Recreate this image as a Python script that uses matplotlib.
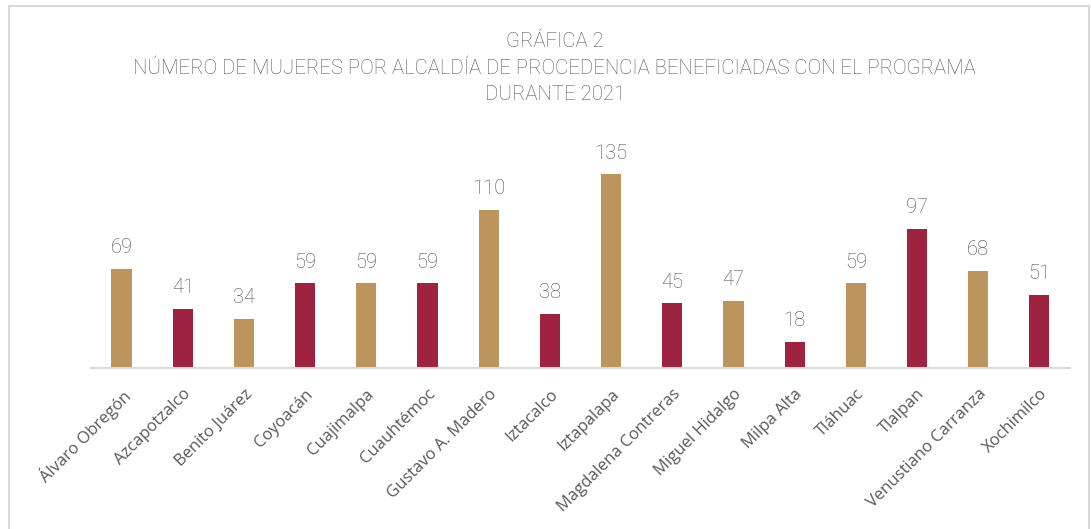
import matplotlib.pyplot as plt
from matplotlib.patches import Rectangle

alcaldias = ["Álvaro Obregón", "Azcapotzalco", "Benito Juárez", "Coyoacán",
             "Cuajimalpa", "Cuauhtémoc", "Gustavo A. Madero", "Iztacalco",
             "Iztapalapa", "Magdalena Contreras", "Miguel Hidalgo", "Milpa Alta",
             "Tláhuac", "Tlalpan", "Venustiano Carranza", "Xochimilco"]
mujeres = [69, 41, 34, 59, 59, 59, 110, 38, 135, 45, 47, 18, 59, 97, 68, 51]

gold = "#BC955C"
maroon = "#9F2241"
bar_colors = [gold, maroon, gold, maroon, gold, maroon, gold, maroon,
              gold, maroon, gold, maroon, gold, maroon, gold, maroon]

fig = plt.figure(figsize=(10.91, 5.29), dpi=100)
ax = fig.add_axes([0.0834, 0.3043, 0.8973, 0.431])

x = range(len(alcaldias))
bars = ax.bar(x, mujeres, width=0.33, color=bar_colors)

for b, v in zip(bars, mujeres):
    ax.annotate(str(v), (b.get_x() + b.get_width() / 2, v), xytext=(0, 8.5),
                textcoords="offset points", ha="center", va="bottom",
                fontsize=14.5, color="#505050", family="Roboto", fontweight="light")

ax.set_xlim(-0.5, len(alcaldias) - 0.5)
ax.set_ylim(0, 159)
ax.set_xticks(list(x))
ax.set_xticklabels(alcaldias, rotation=45, ha="right", rotation_mode="anchor",
                   fontsize=12, color="#595959", family="Open Sans")
ax.tick_params(axis="x", length=0, pad=13)
ax.set_yticks([])
for s in ["top", "left", "right"]:
    ax.spines[s].set_visible(False)
ax.spines["bottom"].set_color("#D9D9D9")
ax.spines["bottom"].set_linewidth(1.5)

title = ("GRÁFICA 2\nNÚMERO DE MUJERES POR ALCALDÍA DE PROCEDENCIA BENEFICIADAS CON EL PROGRAMA\n"
         "DURANTE 2021")
fig.text(0.5085, 1 - 68 / 529, title, ha="center", va="center", fontsize=14.7,
         color="#595959", family="Roboto", fontweight="light", linespacing=1.52)

# outer chart frame
fig.patches.append(Rectangle((9 / 1091, -0.05), 1080 / 1091, 1.05 - 6 / 529,
                             transform=fig.transFigure, fill=False,
                             edgecolor="#D9D9D9", linewidth=1.5))

fig.savefig("out.png", dpi=100)
